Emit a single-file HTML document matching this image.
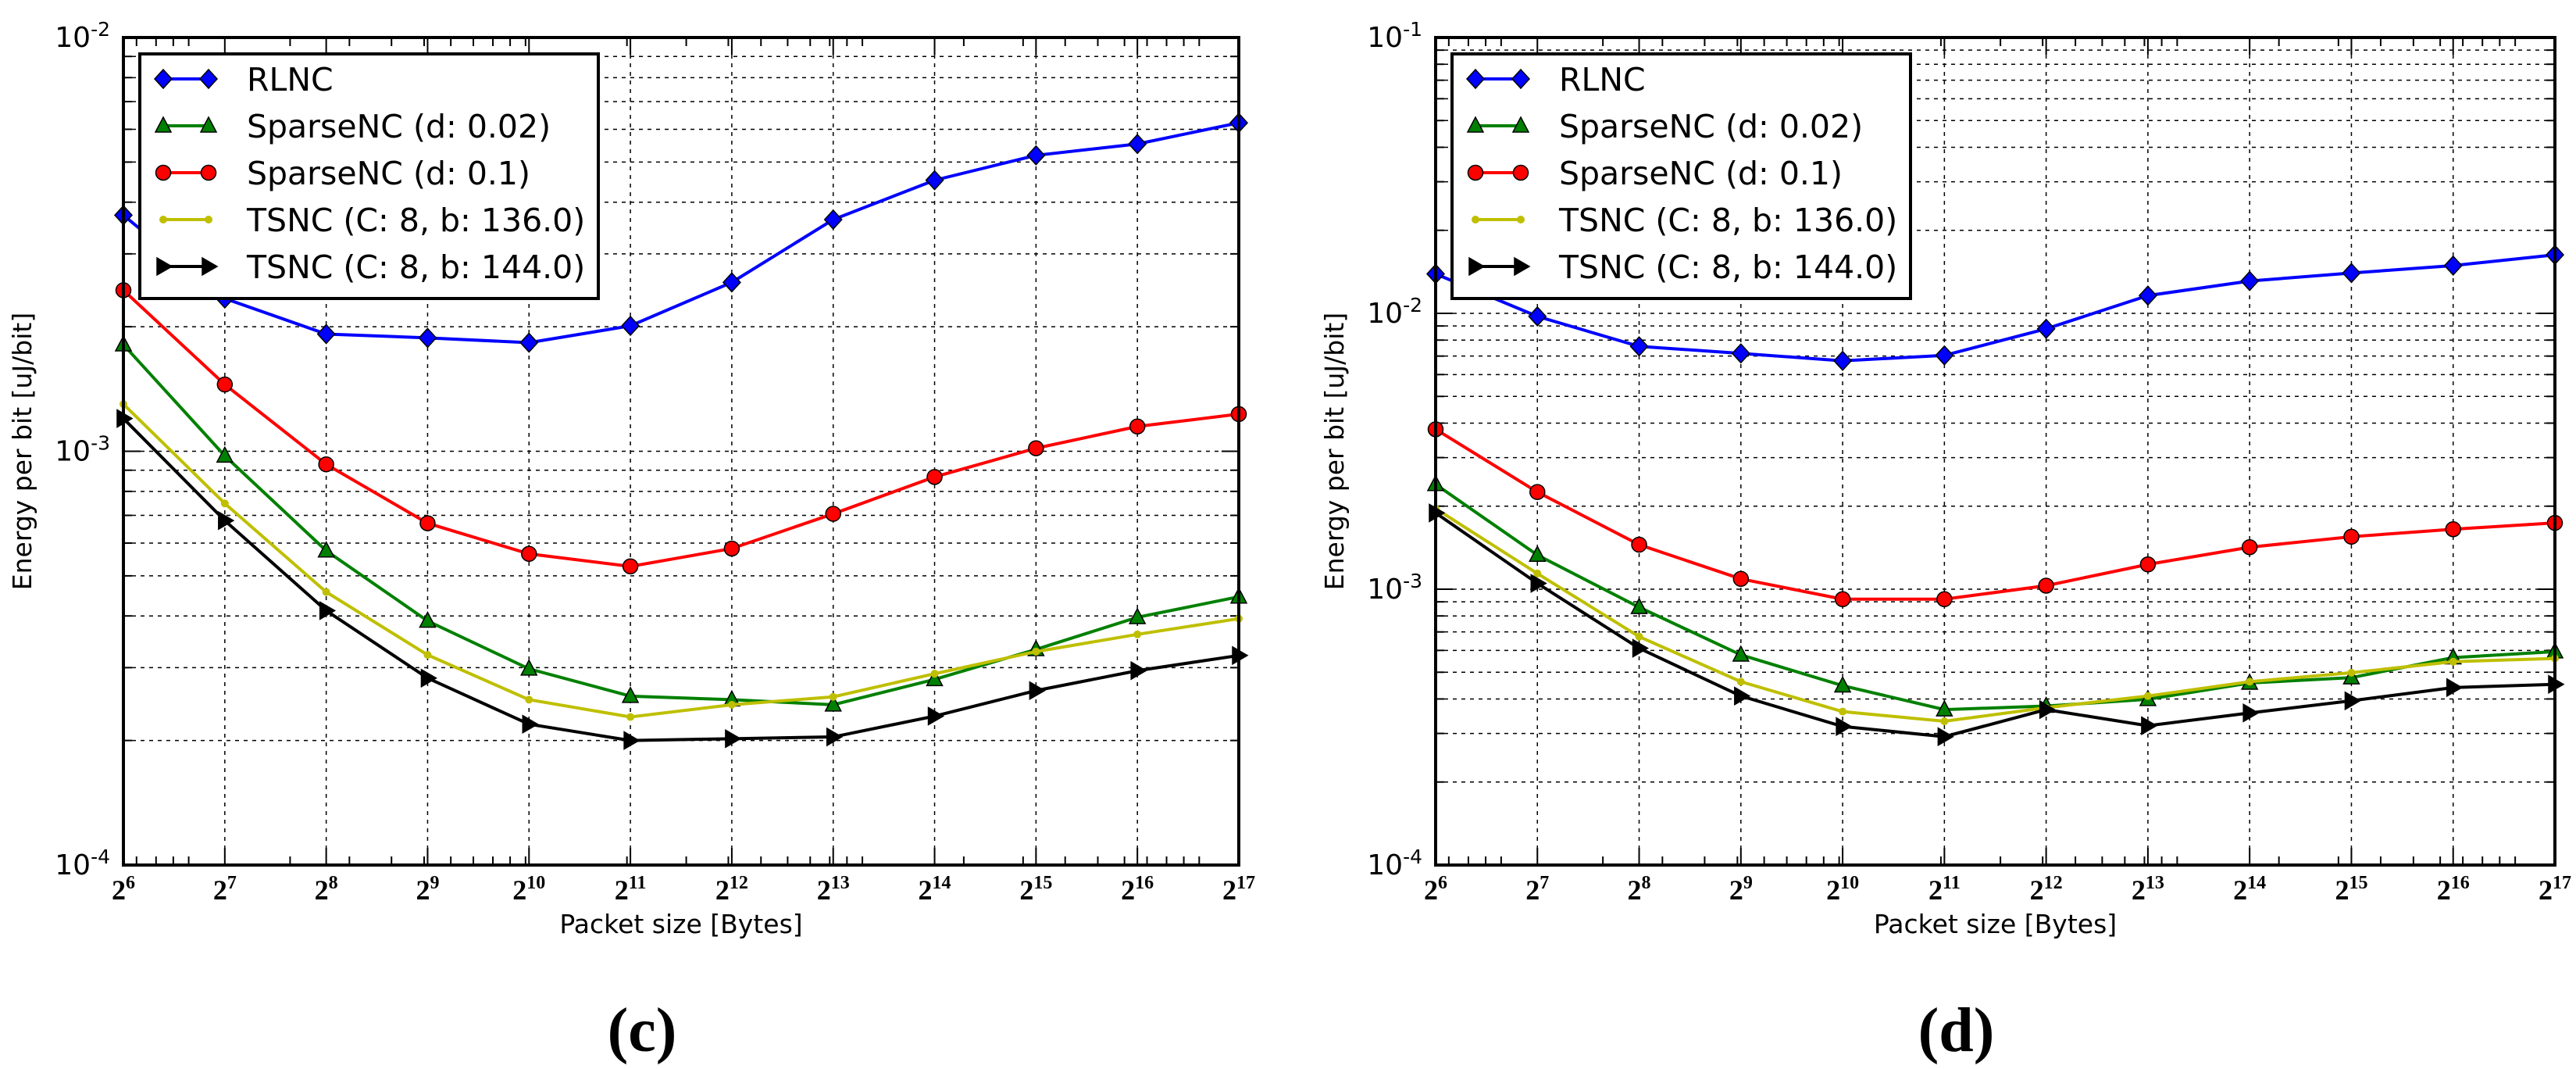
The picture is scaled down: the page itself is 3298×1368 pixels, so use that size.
<!DOCTYPE html>
<html><head><meta charset="utf-8"><style>
html,body{margin:0;padding:0;background:#fff}
svg{display:block}
</style></head><body>
<svg id="fig" xmlns="http://www.w3.org/2000/svg" width="3298" height="1368" viewBox="0 0 3298 1368">
<rect width="3298" height="1368" fill="#fff"/>
</svg>
<script>
const exps = [6,7,8,9,10,11,12,13,14,15,16,17];
const seriesNames = ["RLNC","SparseNC (d: 0.02)","SparseNC (d: 0.1)","TSNC (C: 8, b: 136.0)","TSNC (C: 8, b: 144.0)"];
// panel (c)
const cRLNC   = [3.72e-3,2.34e-3,1.92e-3,1.88e-3,1.83e-3,2.01e-3,2.56e-3,3.63e-3,4.52e-3,5.19e-3,5.53e-3,6.22e-3];
const cSp002  = [1.81e-3,9.75e-4,5.75e-4,3.89e-4,2.98e-4,2.56e-4,2.51e-4,2.44e-4,2.81e-4,3.32e-4,3.97e-4,4.45e-4];
const cSp01   = [2.45e-3,1.45e-3,9.3e-4,6.7e-4,5.65e-4,5.27e-4,5.82e-4,7.06e-4,8.67e-4,1.017e-3,1.148e-3,1.23e-3];
const cTs136  = [1.30e-3,7.48e-4,4.57e-4,3.22e-4,2.51e-4,2.28e-4,2.44e-4,2.55e-4,2.90e-4,3.28e-4,3.61e-4,3.94e-4];
const cTs144  = [1.20e-3,6.8e-4,4.12e-4,2.83e-4,2.19e-4,2.0e-4,2.02e-4,2.04e-4,2.29e-4,2.64e-4,2.95e-4,3.21e-4];
// panel (d)
const dRLNC   = [1.39e-2,9.75e-3,7.59e-3,7.16e-3,6.73e-3,7.04e-3,8.79e-3,1.16e-2,1.31e-2,1.40e-2,1.49e-2,1.63e-2];
const dSp002  = [2.40e-3,1.33e-3,8.6e-4,5.78e-4,4.47e-4,3.66e-4,3.77e-4,3.99e-4,4.57e-4,4.78e-4,5.65e-4,5.94e-4];
const dSp01   = [3.80e-3,2.25e-3,1.45e-3,1.09e-3,9.2e-4,9.2e-4,1.03e-3,1.23e-3,1.42e-3,1.55e-3,1.65e-3,1.74e-3];
const dTs136  = [1.96e-3,1.14e-3,6.73e-4,4.62e-4,3.60e-4,3.32e-4,3.72e-4,4.10e-4,4.62e-4,4.98e-4,5.46e-4,5.61e-4];
const dTs144  = [1.89e-3,1.05e-3,6.11e-4,4.10e-4,3.18e-4,2.92e-4,3.66e-4,3.20e-4,3.56e-4,3.94e-4,4.40e-4,4.52e-4];
const cYTicks = [-4,-3,-2];
const dYTicks = [-4,-3,-2,-1];

const NS = "http://www.w3.org/2000/svg";
const svg = document.getElementById('fig');
function mk(tag, attrs, parent){ const e=document.createElementNS(NS,tag); for(const k in attrs) e.setAttribute(k,attrs[k]); (parent||svg).appendChild(e); return e; }

const colors = ["#0000ff","#008000","#ff0000","#bfbf00","#000000"];
const markers = ["diamond","triangle","circle","point","tright"];

function marker(g, type, x, y, color){
  let e;
  if(type==="diamond") e=mk('polygon',{points:`${x},${y-12} ${x+11},${y} ${x},${y+12} ${x-11},${y}`,fill:color,stroke:'#000','stroke-width':1.5},g);
  else if(type==="triangle") e=mk('polygon',{points:`${x},${y-11} ${x+10},${y+8} ${x-10},${y+8}`,fill:color,stroke:'#000','stroke-width':1.5},g);
  else if(type==="circle") e=mk('circle',{cx:x,cy:y,r:9.5,fill:color,stroke:'#000','stroke-width':1.5},g);
  else if(type==="point") e=mk('circle',{cx:x,cy:y,r:4.5,fill:color,stroke:color,'stroke-width':1},g);
  else e=mk('polygon',{points:`${x+11},${y} ${x-8},${y-11} ${x-8},${y+11}`,fill:color,stroke:'#000','stroke-width':1.5},g);
  
  
}

function panel(id, L, R, T, B, yticks, data, caption){
  const g = mk('g',{});
  
  
  const ymin=yticks[0], ymax=yticks[yticks.length-1];
  const xs = v => L + (v-exps[0])/(exps[exps.length-1]-exps[0])*(R-L);
  const ys = v => B - (Math.log10(v)-ymin)/(ymax-ymin)*(B-T);
  const grid = mk('g',{stroke:'#000','stroke-width':1.5,'stroke-dasharray':'5,6'},g);
  
  
  const tk = mk('g',{stroke:'#000','stroke-width':2},g);
  for(let d=ymin; d<ymax; d++) for(let k=1;k<10;k++){
    const y=ys(k*Math.pow(10,d)); if(d===ymin&&k===1) continue;
    mk('line',{x1:L,x2:R,y1:y,y2:y},grid);
    mk('line',{x1:L,x2:L+(k===1?22:11),y1:y,y2:y},tk);
    mk('line',{x1:R,x2:R-(k===1?22:11),y1:y,y2:y},tk);
  }
  exps.forEach((e,i)=>{ if(i>0&&i<exps.length-1){ const x=xs(e); mk('line',{x1:x,x2:x,y1:T,y2:B},grid);} });
  exps.forEach(e=>{ const x=xs(e); mk('line',{x1:x,x2:x,y1:B,y2:B-22},tk); mk('line',{x1:x,x2:x,y1:T,y2:T+22},tk); });
  for(let p=1;p<6;p++) for(let k=1;k<10;k++){ const v=k*Math.pow(10,p); const e=Math.log2(v); if(e<=exps[0]||e>=exps[exps.length-1]) continue; const x=xs(e); mk('line',{x1:x,x2:x,y1:B,y2:B-11},tk); mk('line',{x1:x,x2:x,y1:T,y2:T+11},tk); }
  exps.forEach(e=>{
    const t=mk('text',{x:xs(e),y:B+44,'text-anchor':'middle','font-family':'Liberation Serif, serif','font-size':36,'font-weight':'bold'},g);
    
    
    t.innerHTML='2<tspan dy="-14" font-size="24">'+e+'</tspan>';
  });
  yticks.forEach(d=>{
    const t=mk('text',{x:L-17,y:ys(Math.pow(10,d))+12,'text-anchor':'end','font-family':'DejaVu Sans, sans-serif','font-size':36},g);
    
    
    t.innerHTML='10<tspan dy="-14" font-size="25">'+d+'</tspan>';
  });
  const plot = mk('g',{},g);
  data.forEach((arr,si)=>{
    const sg = mk('g',{},plot);
    
    
    mk('polyline',{points:arr.map((v,i)=>xs(exps[i])+','+ys(v)).join(' '),fill:'none',stroke:colors[si],'stroke-width':4},sg);
    arr.forEach((v,i)=>marker(sg,markers[si],xs(exps[i]),ys(v),colors[si]));
  });
  const fr=mk('rect',{x:L,y:T,width:R-L,height:B-T,fill:'none',stroke:'#000','stroke-width':4},g);
  
  
  const lg = mk('g',{},g);
  
  
  const lx=L+21, ly=T+21;
  mk('rect',{x:lx,y:ly,width:587,height:313,fill:'#fff',stroke:'#000','stroke-width':4},lg);
  seriesNames.forEach((n,si)=>{
    const y=ly+32+si*60;
    const le=mk('g',{},lg);
    
    
    mk('line',{x1:lx+30,x2:lx+88,y1:y,y2:y,stroke:colors[si],'stroke-width':4},le);
    marker(le,markers[si],lx+30,y,colors[si]); marker(le,markers[si],lx+88,y,colors[si]);
    const t=mk('text',{x:lx+137,y:y+15,'font-family':'DejaVu Sans, sans-serif','font-size':41},le);
    t.textContent=n;
  });
  const xt=mk('text',{x:(L+R)/2,y:B+87,'text-anchor':'middle','font-family':'DejaVu Sans, sans-serif','font-size':33},g);
   
  xt.textContent='Packet size [Bytes]';
  const yx=L-118, yy=(T+B)/2;
  const yt=mk('text',{x:yx,y:yy,'text-anchor':'middle','font-family':'DejaVu Sans, sans-serif','font-size':33,transform:`rotate(-90 ${yx} ${yy})`},g);
   
  yt.textContent='Energy per bit [uJ/bit]';
  const cp=mk('text',{x:(L+R)/2-50,y:1345,'text-anchor':'middle','font-family':'Liberation Serif, serif','font-size':80,'font-weight':'bold'},g);
   
  cp.textContent=caption;
}
panel('c',158,1586,48,1107,cYTicks,[cRLNC,cSp002,cSp01,cTs136,cTs144],'(c)');
panel('d',1838,3271,48,1107,dYTicks,[dRLNC,dSp002,dSp01,dTs136,dTs144],'(d)');
</script>
</body></html>
